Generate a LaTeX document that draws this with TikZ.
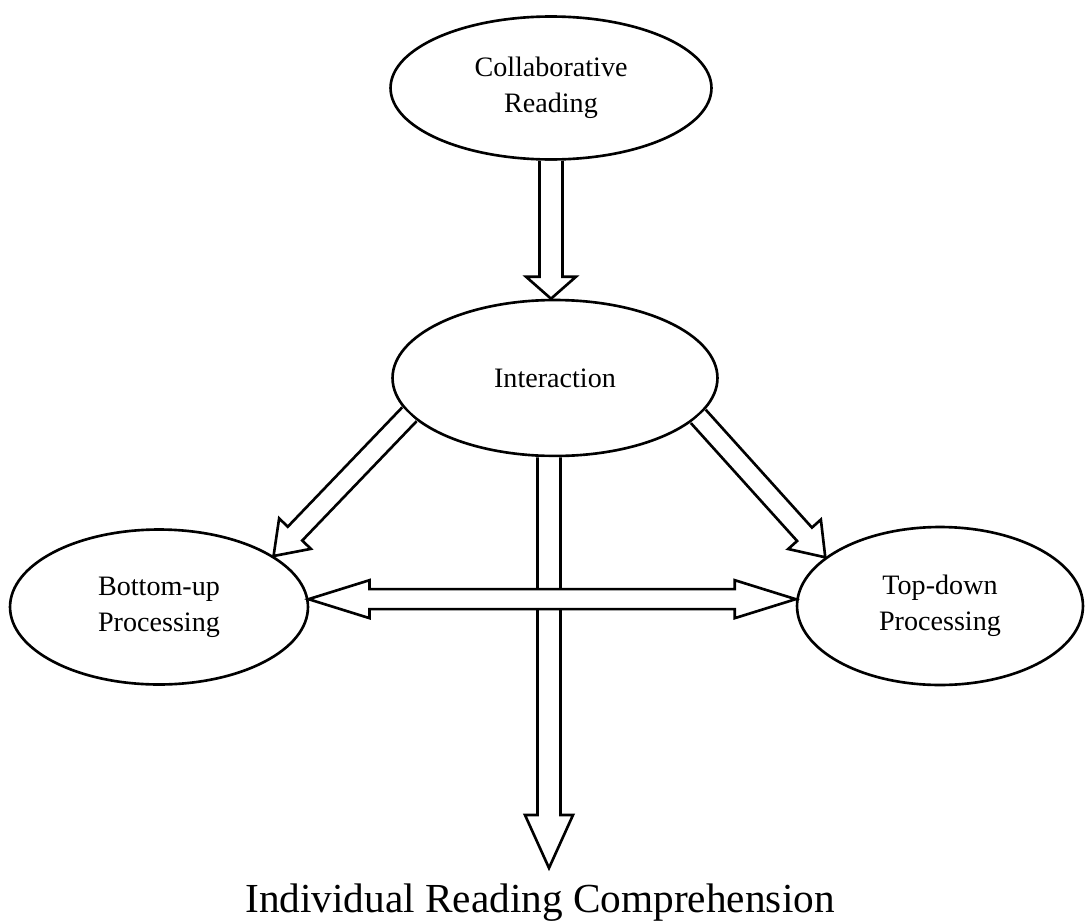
\documentclass[tikz,border=0pt]{standalone}
\usepackage{fontspec}
\setmainfont{Liberation Serif}
\usetikzlibrary{shapes.geometric,calc}

\tikzset{
  reading/.style={draw, ellipse, line width=1.5pt, inner sep=0pt, align=center,
    font=\fontsize{16}{20.5}\selectfont},
  blockarrow/.style={draw, fill=white, line width=1.5pt, line join=miter},
}

% #1 head length, #2 half shaft, #3 half head, #4 from, #5 to
\newcommand\hollowarrow[5]{%
  \coordinate (hb) at ($(#5)!#1!(#4)$);
  \draw[blockarrow] ($(#4)!#2!90:(#5)$) -- ($(hb)!#2!90:(#5)$) -- ($(hb)!#3!90:(#5)$)
    -- (#5) -- ($(hb)!#3!-90:(#5)$) -- ($(hb)!#2!-90:(#5)$) -- ($(#4)!#2!-90:(#5)$);
}
% same, with a head at both ends
\newcommand\hollowdarrow[5]{%
  \coordinate (ha) at ($(#4)!#1!(#5)$);
  \coordinate (hb) at ($(#5)!#1!(#4)$);
  \draw[blockarrow] (#4) -- ($(ha)!#3!90:(#5)$) -- ($(ha)!#2!90:(#5)$)
    -- ($(hb)!#2!-90:(#4)$) -- ($(hb)!#3!-90:(#4)$) -- (#5)
    -- ($(hb)!#3!90:(#4)$) -- ($(hb)!#2!90:(#4)$)
    -- ($(ha)!#2!-90:(#5)$) -- ($(ha)!#3!-90:(#5)$) -- cycle;
}

\begin{document}
\begin{tikzpicture}[x=0.02cm, y=-0.02cm]
\useasboundingbox (0,0) rectangle (1085,923);
%ellipses
\node[reading, minimum width=6.42cm, minimum height=2.86cm] (coll) at (551,88) {Collaborative\\Reading};
\node[reading, minimum width=6.5cm, minimum height=3.12cm] (inter) at (555,378) {Interaction};
\node[reading, minimum width=5.96cm, minimum height=3.1cm] (bu) at (159,607) {Bottom-up\\Processing};
\node[reading, minimum width=5.72cm, minimum height=3.16cm] (td) at (940,606) {Top-down\\Processing};
%outcome
\node[anchor=base, font=\fontsize{23.5}{28}\selectfont] (irc) at (540,912) {Individual Reading Comprehension};
\coordinate (irc-in) at (549,868);
%arrows
\hollowarrow{0.44cm}{0.23cm}{0.5cm}{coll.south}{coll.south |- inter.north}
\hollowarrow{1.06cm}{0.23cm}{0.48cm}{inter.south -| irc-in}{irc-in}
\hollowarrow{0.62cm}{0.2cm}{0.44cm}{inter.194}{bu.24}
\hollowarrow{0.62cm}{0.2cm}{0.44cm}{inter.345}{td.157}
\hollowdarrow{1.22cm}{0.2cm}{0.38cm}{bu.3}{bu.3 -| td.west}
\end{tikzpicture}
\end{document}
